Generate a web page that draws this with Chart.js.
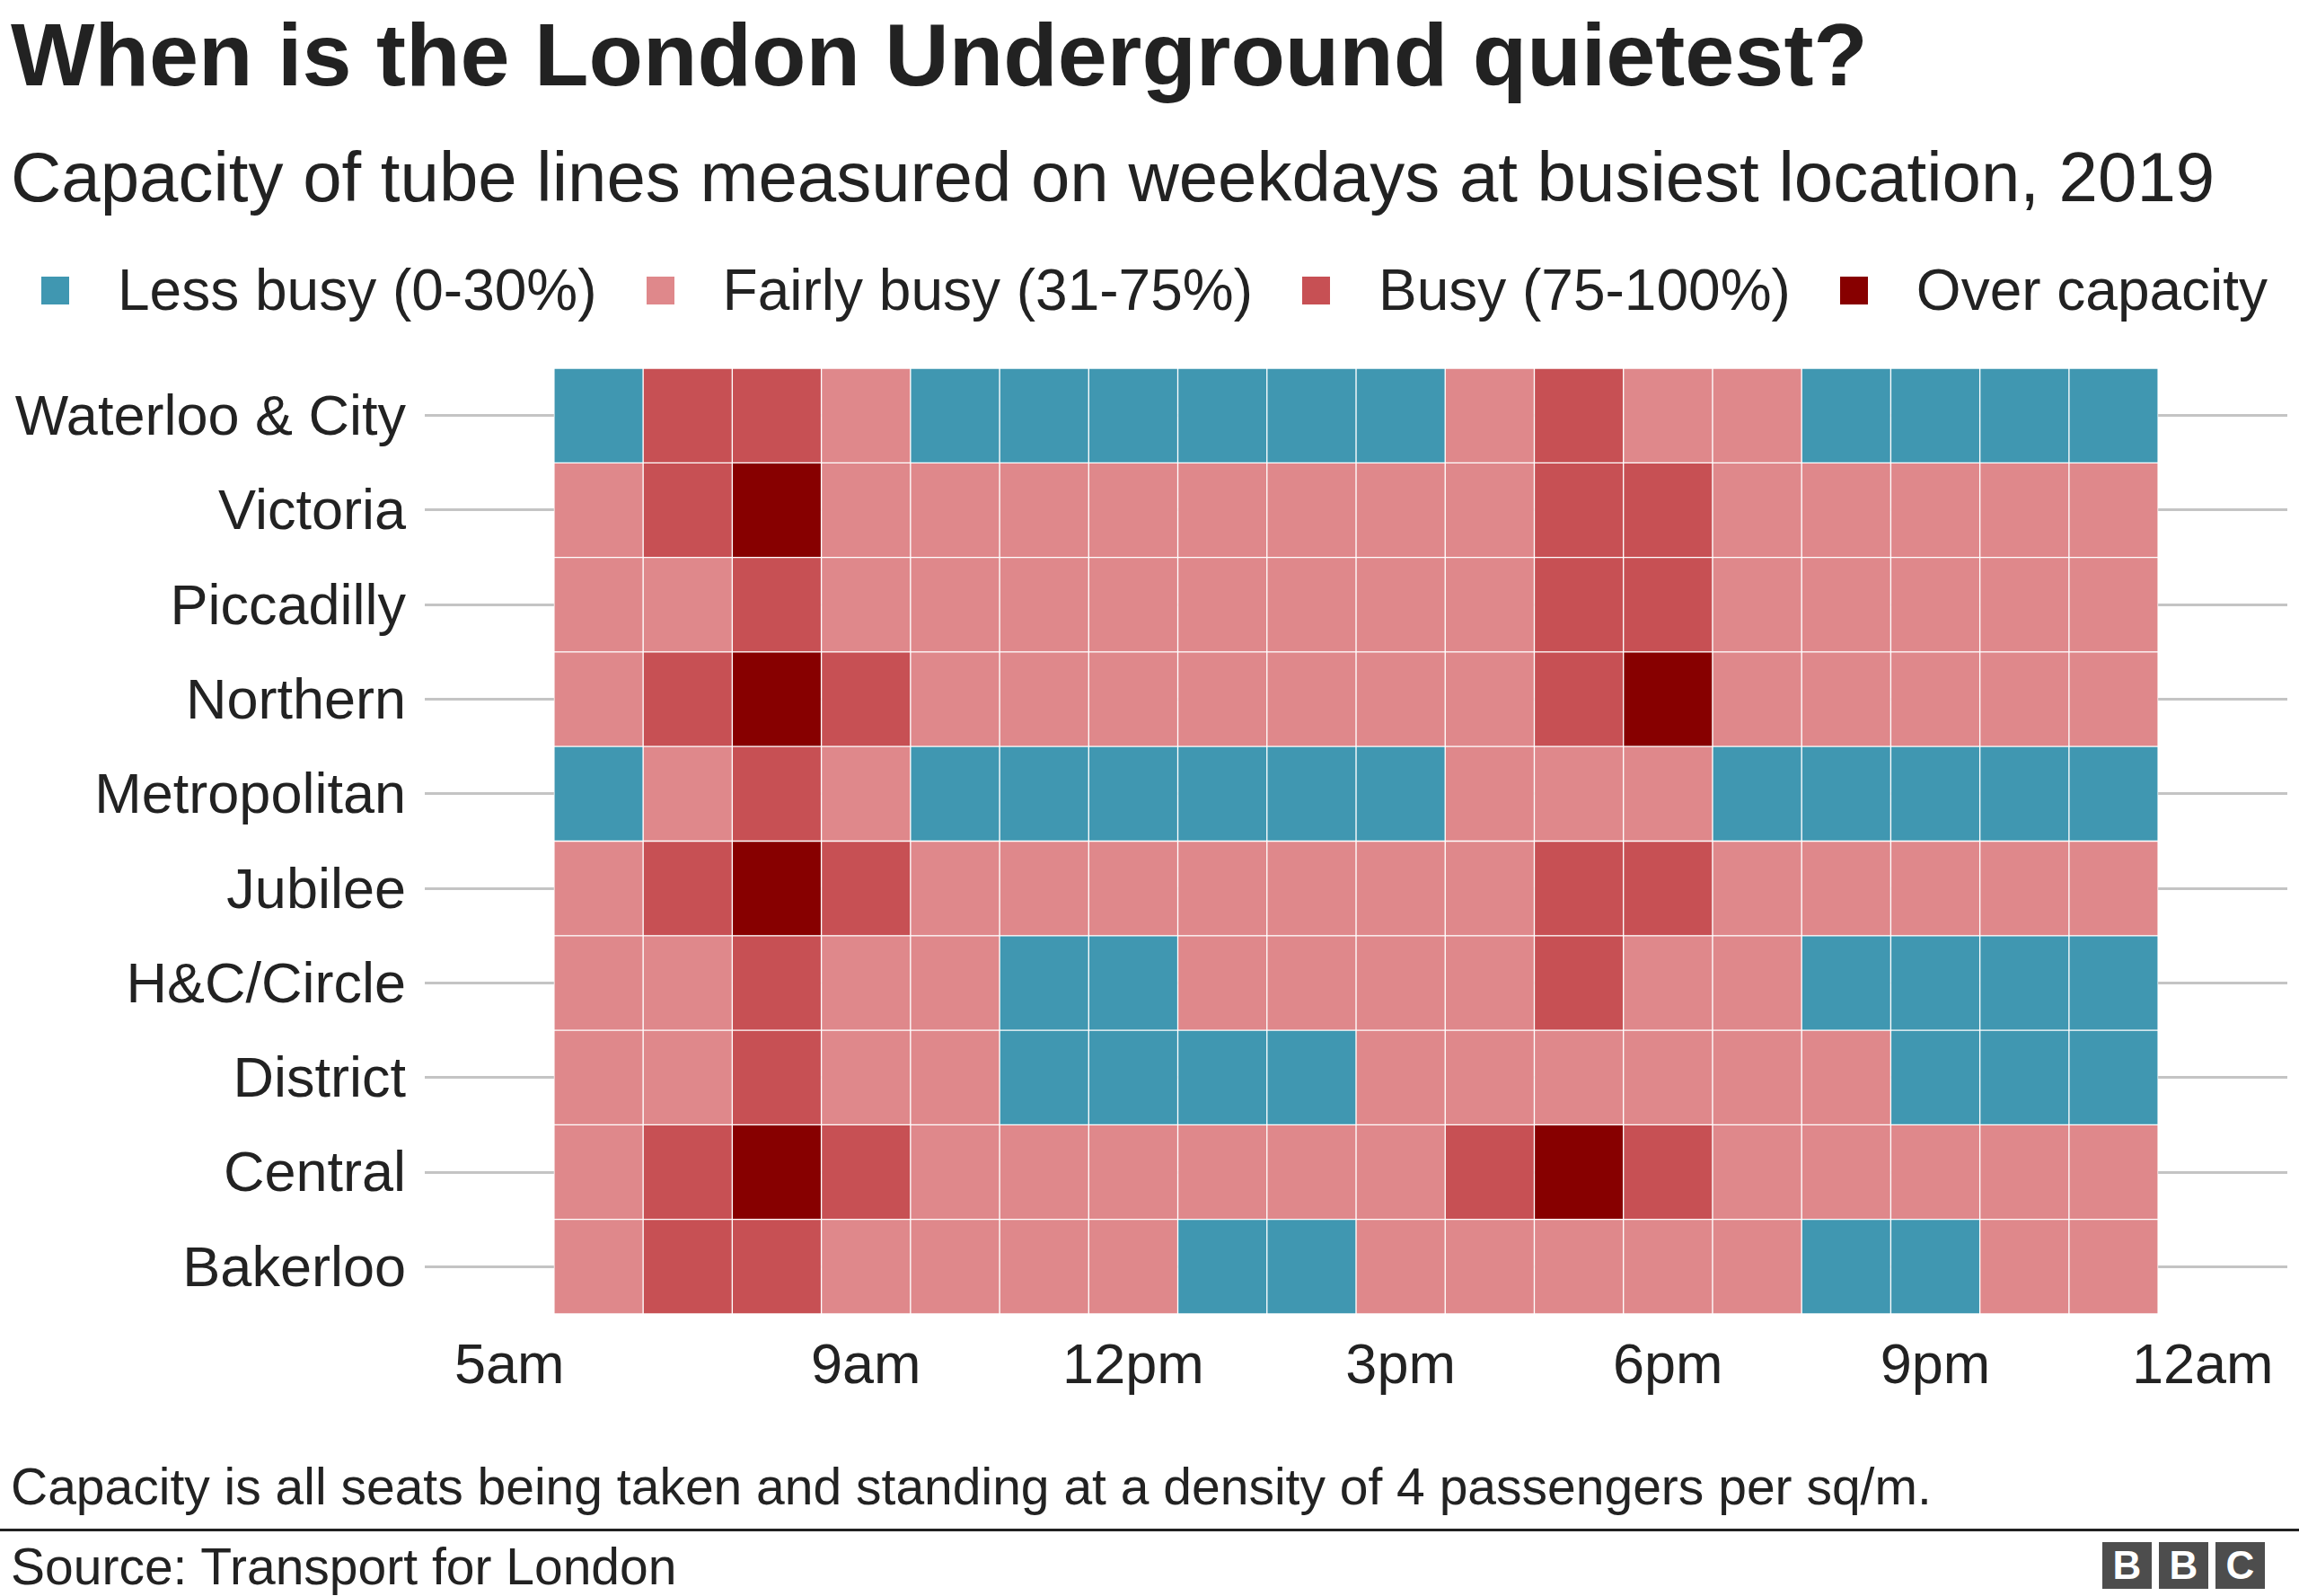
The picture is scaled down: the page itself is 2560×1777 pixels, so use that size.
<!DOCTYPE html>
<html>
<head>
<meta charset="utf-8">
<title>When is the London Underground quietest?</title>
<script src="https://cdn.jsdelivr.net/npm/chart.js@4.4.1/dist/chart.umd.min.js"></script>
<style>
    html, body { margin: 0; padding: 0; background: #fff; }
    body {
        width: 2560px; height: 1777px; position: relative; overflow: hidden;
        font-family: "Liberation Sans", Arial, Helvetica, sans-serif; color: #222;
    }
    .title { position: absolute; left: 12px; top: 11px; font-size: 99px; line-height: 99px; font-weight: bold; white-space: nowrap; }
    .subtitle { position: absolute; left: 12px; top: 158px; font-size: 78px; line-height: 78px; white-space: nowrap; }
    #legend { position: absolute; left: 46px; top: 291px; display: flex; font-size: 64px; line-height: 64px; white-space: nowrap; }
    #legend .item { display: flex; align-items: center; margin-right: 55px; }
    #legend .swatch { width: 31px; height: 31px; margin-right: 54px; }
    .chart-box { position: absolute; left: 0; top: 400px; width: 2560px; height: 1183px; }
    .note { position: absolute; left: 12px; top: 1627px; font-size: 57px; line-height: 57px; white-space: nowrap; }
    .rule { position: absolute; left: 0; top: 1702px; width: 2560px; height: 3px; background: #222; }
    .source { position: absolute; left: 12px; top: 1716px; font-size: 57px; line-height: 57px; white-space: nowrap; }
    .bbc { position: absolute; left: 2341px; top: 1717px; display: flex; }
    .bbc span {
        width: 55px; height: 52px; margin-right: 8px; background: #4d4d4d; color: #fff;
        font-weight: bold; font-size: 44px; line-height: 52px; text-align: center;
    }
</style>
</head>
<body>
<div class="title">When is the London Underground quietest?</div>
<div class="subtitle">Capacity of tube lines measured on weekdays at busiest location, 2019</div>
<div id="legend"></div>
<div class="chart-box"><canvas id="tubeChart"></canvas></div>
<div class="note">Capacity is all seats being taken and standing at a density of 4 passengers per sq/m.</div>
<div class="rule"></div>
<div class="source">Source: Transport for London</div>
<div class="bbc"><span>B</span><span>B</span><span>C</span></div>

<script>
// tube lines, top to bottom
const lines = ['Waterloo & City', 'Victoria', 'Piccadilly', 'Northern', 'Metropolitan',
    'Jubilee', 'H&C/Circle', 'District', 'Central', 'Bakerloo'];

// hour at the centre of each column (6am .. 11pm)
const hours = [6, 7, 8, 9, 10, 11, 12, 13, 14, 15, 16, 17, 18, 19, 20, 21, 22, 23];

const levels = ['Less busy (0-30%)', 'Fairly busy (31-75%)', 'Busy (75-100%)', 'Over capacity'];
const levelColours = ['#4097b1', '#df888b', '#c75054', '#870000'];

// busyness level per hour: 0 less busy, 1 fairly busy, 2 busy, 3 over capacity
const waterlooCity = [0, 2, 2, 1, 0, 0, 0, 0, 0, 0, 1, 2, 1, 1, 0, 0, 0, 0];
const victoria     = [1, 2, 3, 1, 1, 1, 1, 1, 1, 1, 1, 2, 2, 1, 1, 1, 1, 1];
const piccadilly   = [1, 1, 2, 1, 1, 1, 1, 1, 1, 1, 1, 2, 2, 1, 1, 1, 1, 1];
const northern     = [1, 2, 3, 2, 1, 1, 1, 1, 1, 1, 1, 2, 3, 1, 1, 1, 1, 1];
const metropolitan = [0, 1, 2, 1, 0, 0, 0, 0, 0, 0, 1, 1, 1, 0, 0, 0, 0, 0];
const jubilee      = [1, 2, 3, 2, 1, 1, 1, 1, 1, 1, 1, 2, 2, 1, 1, 1, 1, 1];
const hcCircle     = [1, 1, 2, 1, 1, 0, 0, 1, 1, 1, 1, 2, 1, 1, 0, 0, 0, 0];
const district     = [1, 1, 2, 1, 1, 0, 0, 0, 0, 1, 1, 1, 1, 1, 1, 0, 0, 0];
const central      = [1, 2, 3, 2, 1, 1, 1, 1, 1, 1, 2, 3, 2, 1, 1, 1, 1, 1];
const bakerloo     = [1, 2, 2, 1, 1, 1, 1, 0, 0, 1, 1, 1, 1, 1, 0, 0, 1, 1];

const rows = [waterlooCity, victoria, piccadilly, northern, metropolitan,
    jubilee, hcCircle, district, central, bakerloo];

const xTickValues = [5, 9, 12, 15, 18, 21, 24];
const xTickLabels = ['5am', '9am', '12pm', '3pm', '6pm', '9pm', '12am'];

// legend
const legendEl = document.getElementById('legend');
levels.forEach((name, i) => {
    const item = document.createElement('div');
    item.className = 'item';
    item.innerHTML = `<span class="swatch" style="background:${levelColours[i]}"></span><span>${name}</span>`;
    legendEl.appendChild(item);
});

// one floating-bar dataset per hour column, all drawn on top of each other
const datasets = hours.map((h, col) => ({
    label: String(h),
    data: rows.map(() => [h - 0.5, h + 0.5]),
    backgroundColor: rows.map(r => levelColours[r[col]]),
    borderColor: '#ffffff',
    borderWidth: 1,
    borderSkipped: false,
    barPercentage: 1,
    categoryPercentage: 1,
    grouped: false
}));

const font = { family: '"Liberation Sans", Arial, sans-serif', size: 63 };

new Chart(document.getElementById('tubeChart'), {
    type: 'bar',
    data: { labels: lines, datasets: datasets },
    options: {
        indexAxis: 'y',
        responsive: true,
        maintainAspectRatio: false,
        devicePixelRatio: 1,
        animation: false,
        layout: { padding: { top: 10, right: 13, left: 0, bottom: 0 } },
        plugins: {
            legend: { display: false },
            tooltip: { enabled: false }
        },
        scales: {
            x: {
                type: 'linear',
                min: 4.05,
                max: 24.95,
                grid: { display: false },
                border: { display: false },
                afterBuildTicks: scale => {
                    scale.ticks = xTickValues.map(v => ({ value: v }));
                },
                afterFit: scale => { scale.height = 120; },
                ticks: {
                    autoSkip: false,
                    maxRotation: 0,
                    padding: 14,
                    color: '#222',
                    font: font,
                    callback: value => xTickLabels[xTickValues.indexOf(value)]
                }
            },
            y: {
                type: 'category',
                grid: { color: '#c4c4c4', lineWidth: 3, drawTicks: false, offset: false },
                border: { display: false },
                afterFit: scale => {
                    scale.width = 473;
                    // labels sit inside the rows, no extra room needed above/below
                    scale.paddingTop = 0;
                    scale.paddingBottom = 0;
                },
                ticks: {
                    padding: 21,
                    labelOffset: 4,
                    color: '#222',
                    font: font
                }
            }
        }
    }
});
</script>
</body>
</html>
